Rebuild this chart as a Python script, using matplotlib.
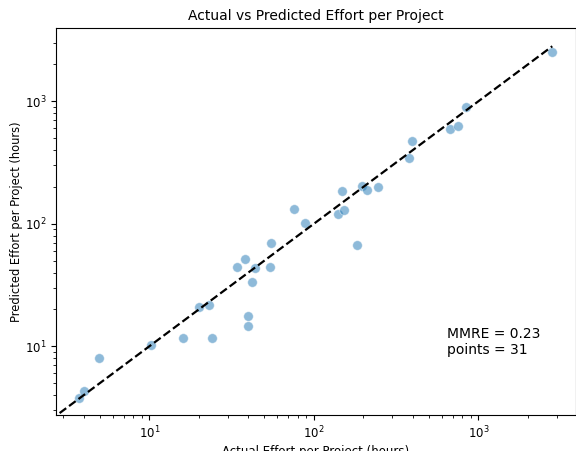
import numpy as np
import matplotlib
matplotlib.use("Agg")
import matplotlib.pyplot as plt

# values (hours)
actual = [3.75, 4.0, 4.95, 10.3, 16.0, 24.0, 20.0, 23.2, 40.0, 40.0,
          41.9, 34.3, 43.9, 54.2, 38.0, 54.7, 76.0, 88.0, 140, 153,
          184, 148, 196, 211, 247, 379, 394, 676, 755, 842, 2818]
predicted = [3.78, 4.31, 7.97, 10.3, 11.75, 11.75, 21.0, 21.6, 17.7, 14.6,
             33.7, 44.2, 43.3, 44.7, 51.3, 70.1, 131, 102, 120, 130,
             66.7, 184, 205, 188, 201, 344, 477, 591, 632, 893, 2541]
mmre = 0.23
line_lims = [2.85, 2810]

fig = plt.figure(figsize=(5.76, 4.51), dpi=100)
ax = fig.add_axes([56 / 576, 1 - 415 / 451, (575.7 - 56) / 576, (415 - 28) / 451])

ax.scatter(actual, predicted, s=48, color="#1f77b4", alpha=0.5,
           edgecolors="white", linewidths=0.6, zorder=2)
ax.plot(line_lims, line_lims, "k--", lw=1.6, zorder=3)

ax.set_xscale("log")
ax.set_yscale("log")
ax.set_xlim(2.71, 3900)
ax.set_ylim(2.75, 3960)

ax.set_title("Actual vs Predicted Effort per Project", fontsize=10)
ax.set_xlabel("Actual Effort per Project (hours)", fontsize=8.5, labelpad=3)
ax.set_ylabel("Predicted Effort per Project (hours)", fontsize=8.3, labelpad=1.5)
ax.tick_params(labelsize=8.5)

ax.text(0.752, 0.228, f"MMRE = {mmre:.2f}\npoints = {len(actual)}",
        transform=ax.transAxes, fontsize=10, va="top", ha="left")

fig.savefig("out.png", dpi=100)
